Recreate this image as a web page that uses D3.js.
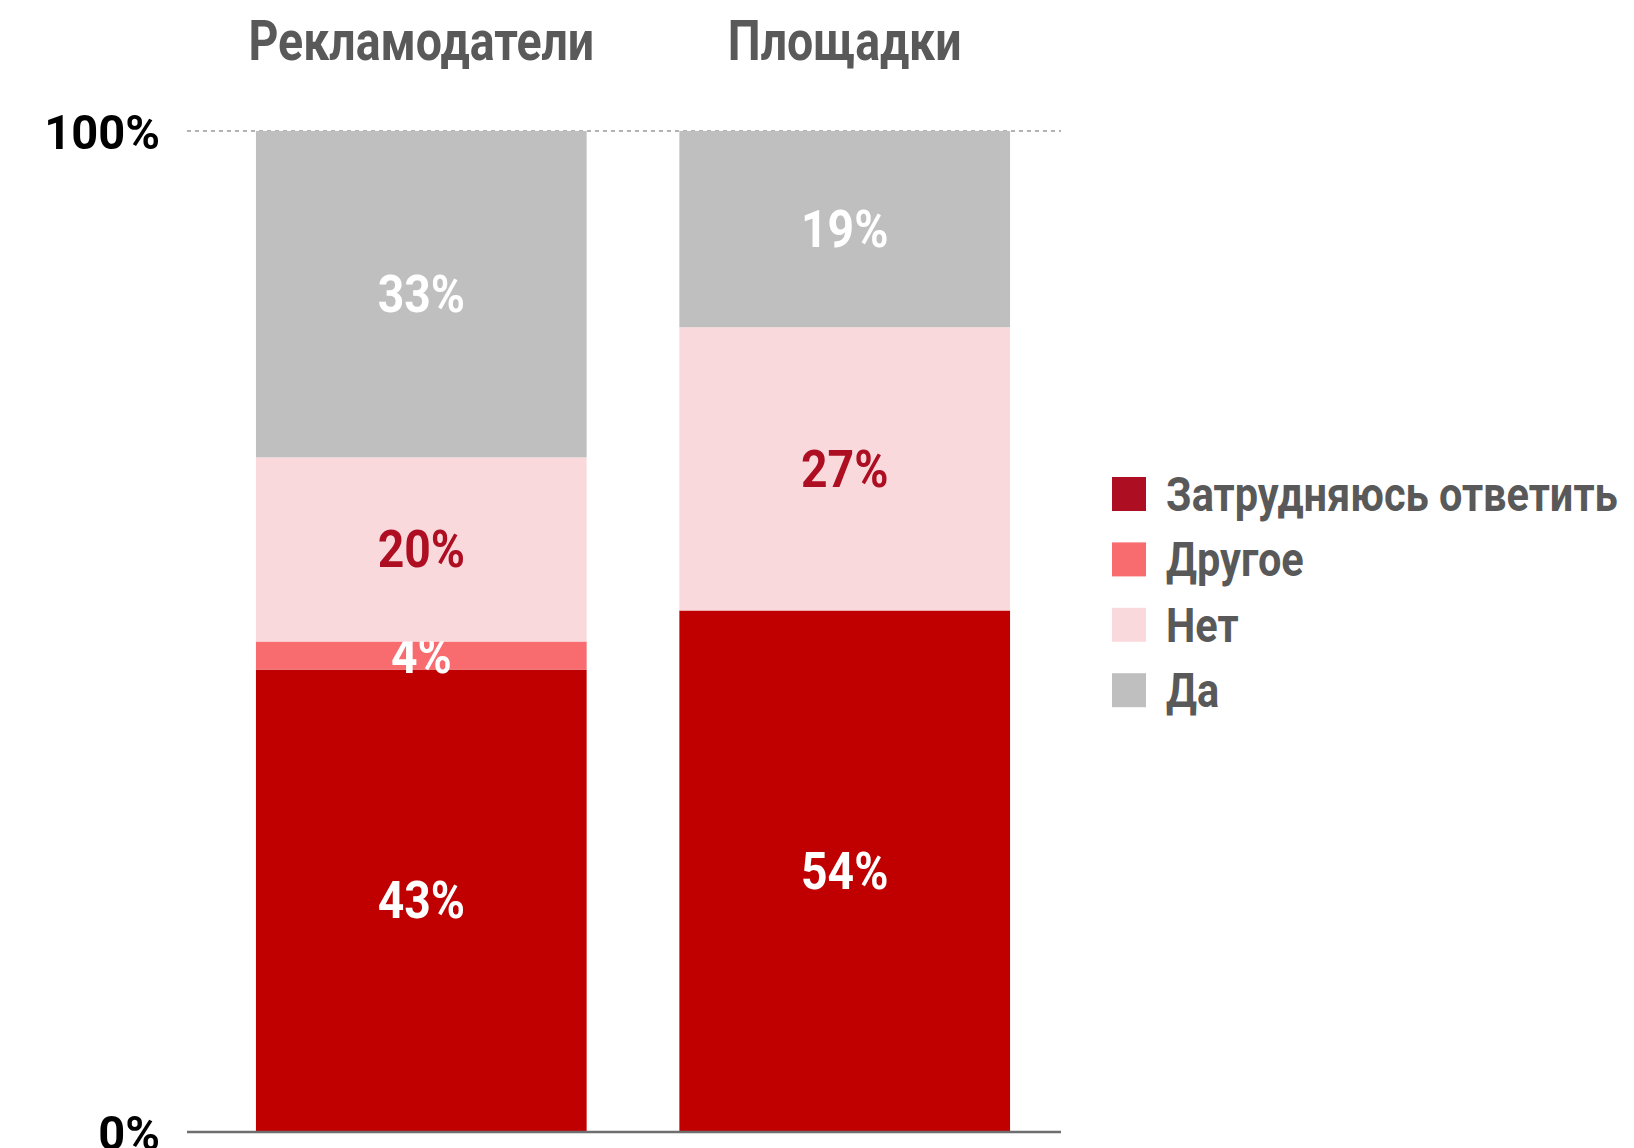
<!DOCTYPE html>
<html>
<head>
<meta charset="utf-8">
<script src="https://cdn.jsdelivr.net/npm/d3@7"></script>
<style>
  body { margin: 0; background: #fff; }
  text { font-family: "Roboto", "Liberation Sans", sans-serif; font-weight: bold; }
</style>
</head>
<body>
<div id="chart"></div>
<script>
// categories and series (bottom to top)
const categories = ["Рекламодатели", "Площадки"];
const seriesNames = ["Затрудняюсь ответить", "Другое", "Нет", "Да"];
// segment heights
const zatrudValues = [46.2, 52.1];
const drugoeValues = [2.8, 0];
const netValues = [18.4, 28.3];
const daValues = [32.6, 19.6];
// printed labels
const zatrudLabels = ["43%", "54%"];
const drugoeLabels = ["4%", ""];
const netLabels = ["20%", "27%"];
const daLabels = ["33%", "19%"];
const tickValues = [0, 100];

const barColors = ["#c00000", "#f86b6f", "#f9d9dc", "#bfbfbf"];
const legendColors = ["#ad0e22", "#f86b6f", "#f9d9dc", "#bfbfbf"];
const labelColors = ["#fff", "#fff", "#ad0e22", "#fff"];

const width = 1634, height = 1148;

const svg = d3.select("#chart").append("svg")
    .attr("width", width)
    .attr("height", height);

const x = d3.scaleBand()
    .domain(categories)
    .range([209.5, 1056.5])
    .paddingInner(0.219)
    .paddingOuter(0.1097);

const y = d3.scaleLinear()
    .domain([0, 100])
    .range([1132, 131]);

// build rows for the stack
const valueLists = [zatrudValues, drugoeValues, netValues, daValues];
const labelLists = [zatrudLabels, drugoeLabels, netLabels, daLabels];
const table = categories.map((c, i) => {
    const row = { cat: c };
    seriesNames.forEach((s, j) => row[s] = valueLists[j][i]);
    return row;
});
const stacked = d3.stack().keys(seriesNames)(table);

// 100% dashed reference line
svg.append("line")
    .attr("x1", 187).attr("x2", 1061)
    .attr("y1", y(100)).attr("y2", y(100))
    .attr("stroke", "#999")
    .attr("stroke-width", 1.3)
    .attr("stroke-dasharray", "4,4");

// bars
const layers = svg.selectAll("g.layer")
    .data(stacked)
    .enter().append("g")
    .attr("class", "layer")
    .attr("fill", (d, i) => barColors[i]);

layers.selectAll("rect")
    .data(d => d)
    .enter().append("rect")
    .attr("x", d => x(d.data.cat))
    .attr("y", d => y(d[1]))
    .attr("width", x.bandwidth())
    .attr("height", d => y(d[0]) - y(d[1]));

// baseline
svg.append("line")
    .attr("x1", 187).attr("x2", 1061)
    .attr("y1", y(0)).attr("y2", y(0))
    .attr("stroke", "#6e6e6e")
    .attr("stroke-width", 2.5);

// the original uses a condensed face, so squeeze horizontally
const squeeze = (px, py, sx) => `translate(${px},${py}) scale(${sx},1)`;

// value labels
layers.selectAll("text")
    .data((d, i) => d.map((v, k) => ({ v, label: labelLists[i][k], color: labelColors[i] })))
    .enter().append("text")
    .attr("transform", d => squeeze(x(d.v.data.cat) + x.bandwidth() / 2, (y(d.v[0]) + y(d.v[1])) / 2, 0.89))
    .attr("dy", "0.34em")
    .attr("text-anchor", "middle")
    .attr("fill", d => d.color)
    .style("font-size", "52px")
    .text(d => d.label);

// category titles
svg.selectAll("text.cat")
    .data(categories)
    .enter().append("text")
    .attr("class", "cat")
    .attr("transform", d => squeeze(x(d) + x.bandwidth() / 2, 60, 0.845))
    .attr("text-anchor", "middle")
    .attr("fill", "#595959")
    .style("font-size", "55px")
    .text(d => d);

// y axis
const yAxis = d3.axisLeft(y)
    .tickValues(tickValues)
    .tickSize(0)
    .tickPadding(0)
    .tickFormat(d => d + "%");

const gAxis = svg.append("g")
    .attr("transform", "translate(160,0)")
    .call(yAxis);
gAxis.select(".domain").remove();
gAxis.selectAll("text")
    .attr("fill", "#000")
    .attr("x", 0)
    .attr("dy", "0.36em")
    .attr("transform", "scale(0.96,1)")
    .style("font-size", "49px")
    .style("font-family", "Roboto, 'Liberation Sans', sans-serif")
    .style("font-weight", "bold");

// legend
const legend = svg.append("g")
    .attr("transform", "translate(1112,477)");

const items = legend.selectAll("g")
    .data(seriesNames)
    .enter().append("g")
    .attr("transform", (d, i) => `translate(0,${i * 65.4})`);

items.append("rect")
    .attr("width", 34)
    .attr("height", 34)
    .attr("fill", (d, i) => legendColors[i]);

items.append("text")
    .attr("transform", squeeze(54, 34, 0.865))
    .attr("fill", "#595959")
    .style("font-size", "48px")
    .text(d => d);
</script>
</body>
</html>
